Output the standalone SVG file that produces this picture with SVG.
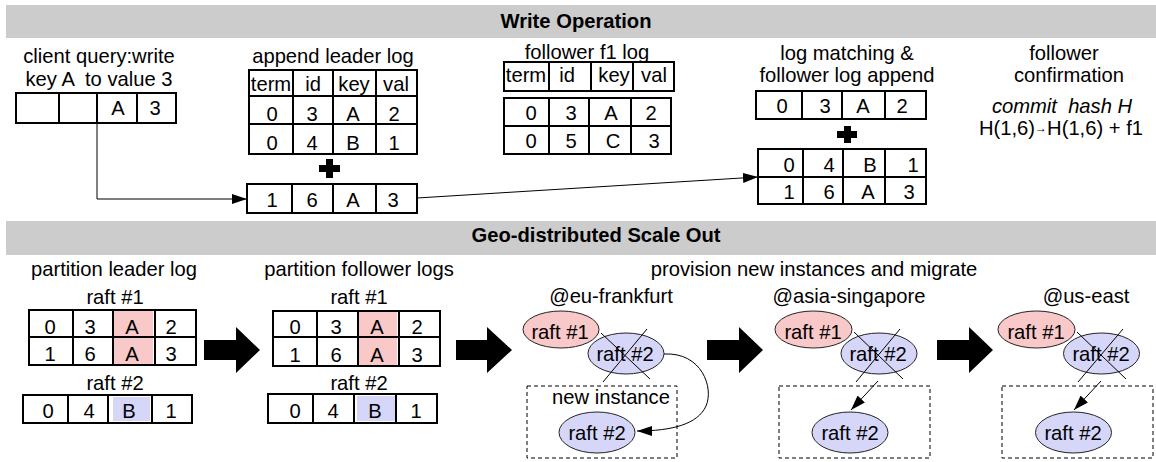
<svg xmlns="http://www.w3.org/2000/svg" width="1156" height="462" viewBox="0 0 1156 462">
<style>
text{font-family:"Liberation Sans",Arial,sans-serif;font-size:20.2px;fill:#000;text-anchor:middle}
.b{font-weight:bold}
.i{font-style:italic}
.tb{fill:none;stroke:#000;stroke-width:2}
.ln{fill:none;stroke:#000;stroke-width:1}
.bar{fill:#cccccc}
.pk{fill:#f9c8c8}
.bl{fill:#d6d6f8}
.ep{fill:#f9c8c8;stroke:#222;stroke-width:1}
.eb{fill:#d6d6f8;stroke:#222;stroke-width:1}
.ds{fill:none;stroke:#000;stroke-width:1;stroke-dasharray:4 3}
.big{fill:#000}
</style>
<defs>
<marker id="ah" markerUnits="userSpaceOnUse" markerWidth="16" markerHeight="10" refX="15" refY="5" orient="auto">
<path d="M0,0 L15,5 L0,10 z" fill="#000"/>
</marker>
</defs>

<g id="header-write">
<rect class="bar" x="6" y="5" width="1150" height="33"/>
<text class="b" x="576" y="28">Write Operation</text>
</g>

<g id="client-query">
<text x="99" y="63">client query:write</text>
<text x="99" y="86" xml:space="preserve">key A  to value 3</text>
<rect class="tb" x="16" y="93" width="160" height="30"/>
<path class="tb" d="M59,93V123M97,93V123M137,93V123"/>
<text x="118" y="115">A</text>
<text x="155" y="115">3</text>
</g>

<g id="leader-log">
<text x="333" y="63">append leader log</text>
<rect class="tb" x="249" y="70" width="168" height="26"/>
<path class="tb" d="M293,70V96M333,70V96M376,70V96"/>
<text x="271" y="91">term</text><text x="313" y="91">id</text><text x="354" y="91">key</text><text x="396" y="91">val</text>
<rect class="tb" x="249" y="96" width="168" height="58"/>
<path class="tb" d="M249,124H417M293,96V154M333,96V154M376,96V154"/>
<text x="272" y="121">0</text><text x="312" y="121">3</text><text x="353" y="121">A</text><text x="394" y="121">2</text>
<text x="272" y="150">0</text><text x="312" y="150">4</text><text x="353" y="150">B</text><text x="394" y="150">1</text>
<path class="big" d="M319,165h7v-6h7v6h7v7h-7v6h-7v-6h-7z"/>
<rect class="tb" x="247" y="184" width="170" height="29"/>
<path class="tb" d="M292,184V213M333,184V213M376,184V213"/>
<text x="272" y="207">1</text><text x="312" y="207">6</text><text x="353" y="207">A</text><text x="393" y="207">3</text>
</g>

<g id="follower-f1-log">
<text x="587" y="59">follower f1 log</text>
<rect class="tb" x="504" y="62" width="170" height="29"/>
<path class="tb" d="M549,62V91M591,62V91M633,62V91"/>
<text x="526" y="82">term</text><text x="567" y="82">id</text><text x="614" y="82">key</text><text x="654" y="82">val</text>
<rect class="tb" x="504" y="98" width="167" height="56"/>
<path class="tb" d="M504,126H671M549,98V154M589,98V154M631,98V154"/>
<text x="531" y="120">0</text><text x="571" y="120">3</text><text x="611" y="120">A</text><text x="651" y="120">2</text>
<text x="531" y="148">0</text><text x="571" y="148">5</text><text x="613" y="148">C</text><text x="654" y="148">3</text>
</g>

<g id="log-matching">
<text x="847" y="60">log matching &amp;</text>
<text x="847" y="82">follower log append</text>
<rect class="tb" x="756" y="91" width="170" height="28"/>
<path class="tb" d="M802,91V119M842,91V119M885,91V119"/>
<text x="782" y="113">0</text><text x="825" y="113">3</text><text x="863" y="113">A</text><text x="902" y="113">2</text>
<path class="big" d="M837,131h7v-5h7v5h6v7h-6v5h-7v-5h-7z"/>
<rect class="tb" x="758" y="149" width="168" height="55"/>
<path class="tb" d="M758,177H926M803,149V204M843,149V204M885,149V204"/>
<text x="789" y="172">0</text><text x="829" y="172">4</text><text x="870" y="172">B</text><text x="913" y="172">1</text>
<text x="789" y="199">1</text><text x="829" y="199">6</text><text x="868" y="199">A</text><text x="909" y="199">3</text>
</g>

<g id="follower-confirmation">
<text x="1064" y="60">follower</text>
<text x="1069" y="82">confirmation</text>
<text class="i" x="1062" y="113" xml:space="preserve">commit  hash H</text>
<text x="1061" y="135">H(1,6)<tspan font-size="12" dy="-3">→</tspan><tspan dy="3">H(1,6) + f1</tspan></text>
</g>

<g id="header-geo">
<rect class="bar" x="6" y="221" width="1150" height="34"/>
<text class="b" x="596" y="242">Geo-distributed Scale Out</text>
</g>

<g id="partition-leader-log">
<text x="114" y="276">partition leader log</text>
<text x="115" y="304">raft #1</text>
<rect class="pk" x="114" y="311" width="39" height="53"/>
<rect class="tb" x="29" y="310" width="167" height="55"/>
<path class="tb" d="M29,337H196M73,310V365M113,310V365M155,310V365"/>
<text x="50" y="334">0</text><text x="90" y="334">3</text><text x="132" y="334">A</text><text x="171" y="334">2</text>
<text x="50" y="361">1</text><text x="90" y="361">6</text><text x="132" y="361">A</text><text x="171" y="361">3</text>
<text x="115" y="390">raft #2</text>
<rect class="bl" x="113" y="397" width="37" height="24"/>
<rect class="tb" x="23" y="395" width="169" height="28"/>
<path class="tb" d="M68,395V423M108,395V423M152,395V423"/>
<text x="48" y="418">0</text><text x="89" y="418">4</text><text x="129" y="418">B</text><text x="171" y="418">1</text>
</g>

<g id="partition-follower-logs">
<text x="359" y="276">partition follower logs</text>
<text x="359" y="304">raft #1</text>
<rect class="pk" x="359" y="312" width="38" height="53"/>
<rect class="tb" x="273" y="311" width="167" height="55"/>
<path class="tb" d="M273,337H440M317,311V366M358,311V366M399,311V366"/>
<text x="295" y="334">0</text><text x="336" y="334">3</text><text x="377" y="334">A</text><text x="417" y="334">2</text>
<text x="295" y="362">1</text><text x="336" y="362">6</text><text x="377" y="362">A</text><text x="417" y="362">3</text>
<text x="359" y="390">raft #2</text>
<rect class="bl" x="357" y="396" width="38" height="25"/>
<rect class="tb" x="268" y="394" width="169" height="29"/>
<path class="tb" d="M313,394V423M354,394V423M396,394V423"/>
<text x="295" y="418">0</text><text x="333" y="418">4</text><text x="375" y="418">B</text><text x="416" y="418">1</text>
</g>

<g id="provision-label">
<text x="814" y="276">provision new instances and migrate</text>
</g>

<g id="eu-frankfurt">
<text x="611" y="303">@eu-frankfurt</text>
<ellipse class="ep" cx="561" cy="329.5" rx="38" ry="18.5"/>
<text x="560" y="339">raft #1</text>
<ellipse class="eb" cx="626" cy="353.5" rx="38" ry="20.5"/>
<text x="625" y="361">raft #2</text>
<path class="ln" d="M601,333L650,379M647,329L603,382"/>
<rect class="ds" x="527" y="386" width="150" height="72"/>
<text x="611" y="404">new instance</text>
<ellipse class="eb" cx="597" cy="432.5" rx="38" ry="20.5"/>
<text x="597" y="440">raft #2</text>
</g>

<g id="asia-singapore">
<text x="849" y="303">@asia-singapore</text>
<ellipse class="ep" cx="813.5" cy="329.5" rx="38.5" ry="18.5"/>
<text x="813" y="339">raft #1</text>
<ellipse class="eb" cx="879" cy="353.5" rx="38" ry="20.5"/>
<text x="878" y="361">raft #2</text>
<path class="ln" d="M854,332L903,379M900,329L856,382"/>
<rect class="ds" x="779" y="386" width="151" height="72"/>
<ellipse class="eb" cx="850" cy="432.5" rx="38" ry="20.5"/>
<text x="850" y="440">raft #2</text>
</g>

<g id="us-east">
<text x="1086" y="303">@us-east</text>
<ellipse class="ep" cx="1036.5" cy="329.5" rx="38.5" ry="18.5"/>
<text x="1036" y="339">raft #1</text>
<ellipse class="eb" cx="1101.5" cy="353.5" rx="38" ry="20.5"/>
<text x="1101" y="361">raft #2</text>
<path class="ln" d="M1077,332L1126,379M1123,329L1078,382"/>
<rect class="ds" x="1002" y="386" width="151" height="72"/>
<ellipse class="eb" cx="1073.5" cy="432.5" rx="38" ry="20.5"/>
<text x="1073" y="440">raft #2</text>
</g>

<g id="connectors">
<path class="ln" marker-end="url(#ah)" d="M97,123V199H247"/>
<path class="ln" marker-end="url(#ah)" d="M417,198L758,177"/>
<path class="ln" marker-end="url(#ah)" d="M664,354C702,352 714,388 706,406C698,424 672,431 637,431"/>
<path class="ln" marker-end="url(#ah)" d="M878,381L851,410"/>
<path class="ln" marker-end="url(#ah)" d="M1101,381L1074,410"/>
<path class="big" d="M204,340H236V327L260,350L236,373V360H204z"/>
<path class="big" d="M456,340H487V327L512,350L487,373V360H456z"/>
<path class="big" d="M707,340H739V327L763,350L739,373V360H707z"/>
<path class="big" d="M937,340H969V327L993,350L969,373V360H937z"/>
</g>
</svg>
